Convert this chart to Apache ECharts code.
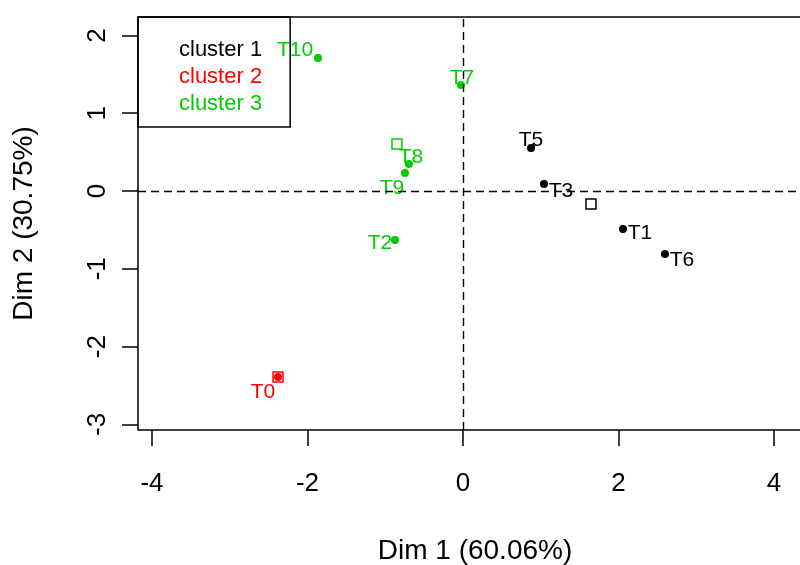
<!DOCTYPE html>
<html><head><meta charset="utf-8">
<script src="https://cdn.jsdelivr.net/npm/echarts@6/dist/echarts.min.js"></script>
<style>html,body{margin:0;padding:0;background:#fff}#c{width:800px;height:565px}</style>
</head><body><div id="c"></div>
<script>
// ---- data ----
const individuals = ['T0','T1','T2','T3','T5','T6','T7','T8','T9','T10'];
const dim1 = [-2.379, 2.058, -0.875, 1.042, 0.875, 2.598, -0.026, -0.695, -0.746, -1.865];
const dim2 = [-2.391, -0.488, -0.630, 0.090, 0.553, -0.810, 1.362, 0.347, 0.231, 1.709];
const clusterOf = [2, 1, 3, 1, 1, 1, 3, 3, 3, 3];
const clusterNames = ['cluster 1', 'cluster 2', 'cluster 3'];
const centerDim1 = [1.646, -2.379, -0.849];
const centerDim2 = [-0.167, -2.391, 0.604];
const xTicks = [-4, -2, 0, 2, 4];
const yTicks = [-3, -2, -1, 0, 1, 2];
const xTitle = 'Dim 1 (60.06%)';
const yTitle = 'Dim 2 (30.75%)';

// ---- styles ----
const colors = ['#000000', '#FF0000', '#00CD00'];
const FONT = "'Liberation Sans', Arial, sans-serif";
const labelOffset = {
  T10: [-23, -8], T7: [1, -7], T5: [0, -8], T3: [17, 7], T1: [17, 4],
  T6: [17, 6], T8: [2, -7], T9: [-13, 15], T2: [-15, 3], T0: [-15, 15]
};

const series = clusterNames.map((cn, ci) => ({
  type: 'scatter',
  name: cn,
  symbol: 'circle',
  symbolSize: 8,
  itemStyle: { color: colors[ci], opacity: 1 },
  z: 3,
  label: {
    show: true, position: 'inside', formatter: '{b}',
    color: colors[ci], fontSize: 21, fontFamily: FONT, opacity: 1
  },
  data: individuals.map((n, i) => ({ n, i }))
    .filter(o => clusterOf[o.i] === ci + 1)
    .map(o => ({ name: o.n, value: [dim1[o.i], dim2[o.i]], label: { offset: labelOffset[o.n] } }))
}));

series.push({
  type: 'scatter',
  name: 'centers',
  symbol: 'rect',
  symbolSize: 10,
  z: 2,
  data: centerDim1.map((x, i) => ({
    value: [x, centerDim2[i]],
    itemStyle: { color: 'rgba(255,255,255,0)', borderColor: colors[i], borderWidth: 1.5, opacity: 1 }
  })),
  markLine: {
    silent: true, symbol: 'none', animation: false,
    label: { show: false },
    lineStyle: { color: '#000', width: 1.4, type: [8, 5], opacity: 1 },
    data: [{ xAxis: 0 }, { yAxis: 0 }]
  }
});

const chart = echarts.init(document.getElementById('c'), null, { renderer: 'canvas' });
chart.setOption({
  animation: false,
  backgroundColor: '#fff',
  grid: {
    left: 138, top: 17, width: 674, height: 413, show: true,
    borderColor: '#000', borderWidth: 1.5,
    containLabel: false, outerBoundsMode: 'none'
  },
  xAxis: {
    type: 'value', min: -4.18, max: 4.489,
    axisLine: { show: false, onZero: false }, splitLine: { show: false },
    axisTick: { show: true, customValues: xTicks, length: 16, lineStyle: { color: '#000', width: 1.5 } },
    axisLabel: { customValues: xTicks, fontSize: 26, color: '#000', margin: 41, fontFamily: FONT },
    name: xTitle, nameLocation: 'middle', nameGap: 107,
    nameTextStyle: { fontSize: 28, color: '#000', fontFamily: FONT }
  },
  yAxis: {
    type: 'value', min: -3.072, max: 2.237,
    axisLine: { show: false, onZero: false }, splitLine: { show: false },
    axisTick: { show: true, customValues: yTicks, length: 16, lineStyle: { color: '#000', width: 1.5 } },
    axisLabel: { customValues: yTicks, fontSize: 26, color: '#000', margin: 27, rotate: 90, fontFamily: FONT },
    name: yTitle, nameLocation: 'middle', nameGap: 100,
    nameTextStyle: { fontSize: 28, color: '#000', fontFamily: FONT }
  },
  legend: {
    left: 138, top: 17, orient: 'vertical',
    itemWidth: 0, itemHeight: 0, itemGap: 5,
    padding: [22, 28, 12, 36],
    borderColor: '#000', borderWidth: 1.5, borderRadius: 0,
    selectedMode: false,
    textStyle: { fontSize: 22, lineHeight: 22, fontFamily: FONT },
    data: clusterNames.map((n, i) => ({ name: n, icon: 'rect', textStyle: { color: colors[i] } }))
  },
  series
});
</script></body></html>
